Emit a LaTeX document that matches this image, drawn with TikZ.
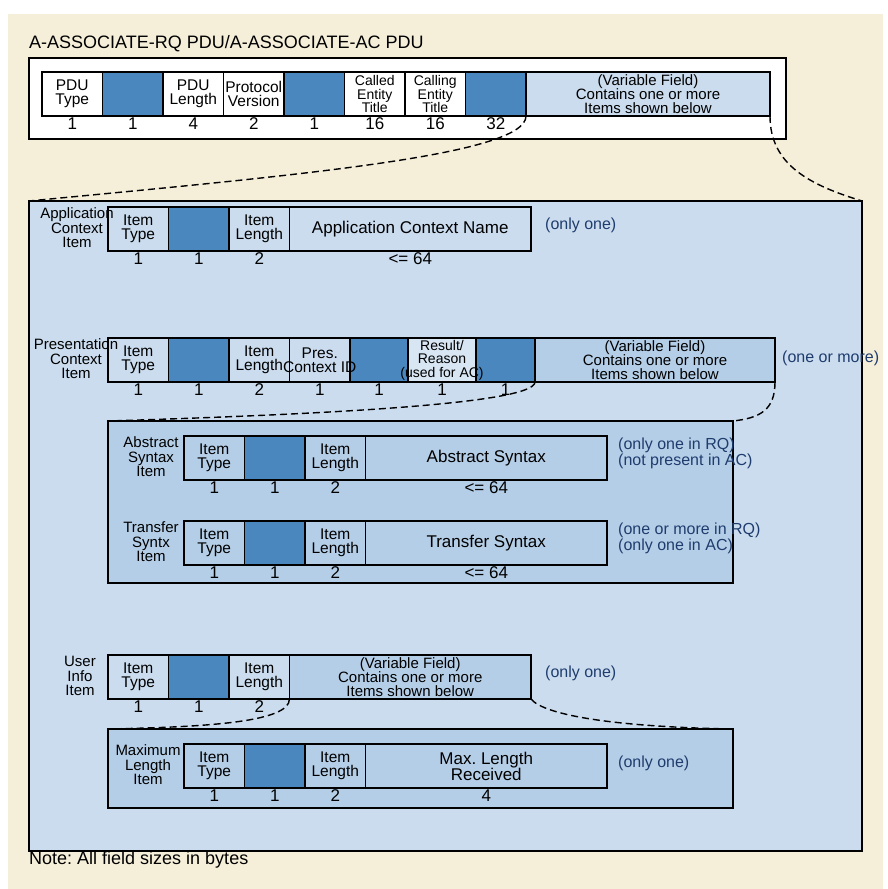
\documentclass[tikz,border=0pt]{standalone}
\usepackage{fontspec}
\setmainfont{Liberation Sans}
\usetikzlibrary{positioning}

\definecolor{pduCream}{HTML}{F5EFDA}
\definecolor{pduPale}{HTML}{CADCEE}
\definecolor{pduMid}{HTML}{B4CEE7}
\definecolor{pduBlue}{HTML}{4A87BE}
\definecolor{pduRes}{HTML}{D8E6F3}
\definecolor{pduNote}{HTML}{1F3C6E}

\tikzset{
  fld/.style={draw, line width=1.2pt, minimum width=#1, minimum height=44pt,
    inner sep=0pt, outer sep=0pt},
  fld/.default=60.5pt,
  bluefld/.style={fld=#1, fill=pduBlue},
  bluefld/.default=60.5pt,
  ftxt/.style={align=center, inner sep=0pt, font=\fontsize{15.5}{14}\selectfont},
  ftxtthree/.style={align=center, inner sep=0pt, font=\fontsize{14}{13.5}\selectfont},
  wtxt/.style={align=center, inner sep=0pt, font=\fontsize{17}{16}\selectfont},
  vartxt/.style={align=center, inner sep=0pt, font=\fontsize{15}{14.3}\selectfont},
  sz/.style={inner sep=0pt, font=\fontsize{17}{17}\selectfont},
  itemlbl/.style={align=center, inner sep=0pt, font=\fontsize{15}{14.5}\selectfont},
  remark/.style={align=left, inner sep=0pt, text=pduNote, font=\fontsize{16}{16}\selectfont},
  box/.style={draw, line width=1.6pt, inner sep=0pt, outer sep=0pt, anchor=north west},
  link/.style={line width=1.4pt, dash pattern=on 7pt off 4pt},
}

\begin{document}
\frenchspacing
\begin{tikzpicture}[x=1pt, y=-1pt]
\useasboundingbox (0,0) rectangle (888,889);
\fill[pduCream] (8,14) rectangle (883,889);

% A-ASSOCIATE PDU
\node[anchor=base west, inner sep=0pt, font=\fontsize{18}{18}\selectfont] (title) at (29,48) {A-ASSOCIATE-RQ PDU/A-ASSOCIATE-AC PDU};
\node[box, fill=white, minimum width=757pt, minimum height=81pt] (pdubox) at (29,58) {};
\node[fld, fill=white, anchor=north west] (t1) at (42,72) {};
\node[bluefld, right=0pt of t1] (t2) {};
\node[fld, fill=white, right=0pt of t2] (t3) {};
\node[fld, fill=white, right=0pt of t3] (t4) {};
\node[bluefld, right=0pt of t4] (t5) {};
\node[fld, fill=white, right=0pt of t5] (t6) {};
\node[fld, fill=white, right=0pt of t6] (t7) {};
\node[bluefld, right=0pt of t7] (t8) {};
\node[fld=244pt, fill=pduPale, right=0pt of t8] (t9) {};
\node[ftxt] (t1t) at (t1) {PDU\\Type};
\node[ftxt] (t3t) at (t3) {PDU\\Length};
\node[ftxt] (t4t) at (t4) {Protocol\\Version};
\node[ftxtthree] (t6t) at (t6) {Called\\Entity\\Title};
\node[ftxtthree] (t7t) at (t7) {Calling\\Entity\\Title};
\node[vartxt] (t9t) at (t9) {(Variable Field)\\Contains one or more\\Items shown below};
\node[sz, below=1.5pt of t1] (t1s) {1};
\node[sz, below=1.5pt of t2] (t2s) {1};
\node[sz, below=1.5pt of t3] (t3s) {4};
\node[sz, below=1.5pt of t4] (t4s) {2};
\node[sz, below=1.5pt of t5] (t5s) {1};
\node[sz, below=1.5pt of t6] (t6s) {16};
\node[sz, below=1.5pt of t7] (t7s) {16};
\node[sz, below=1.5pt of t8] (t8s) {32};

% items
\node[box, fill=pduPale, minimum width=833pt, minimum height=650pt] (bigbox) at (29,201) {};

% application context
\node[fld, fill=pduPale, anchor=north west] (a1) at (108,207) {};
\node[bluefld, right=0pt of a1] (a2) {};
\node[fld, fill=pduPale, right=0pt of a2] (a3) {};
\node[fld=241.5pt, fill=pduPale, right=0pt of a3] (a4) {};
\node[ftxt] (a1t) at (a1) {Item\\Type};
\node[ftxt] (a3t) at (a3) {Item\\Length};
\node[wtxt] (a4t) at (a4) {Application Context Name};
\node[sz, below=1.5pt of a1] (a1s) {1};
\node[sz, below=1.5pt of a2] (a2s) {1};
\node[sz, below=1.5pt of a3] (a3s) {2};
\node[sz, below=1.5pt of a4] (a4s) {<= 64};
\node[itemlbl] (alab) at (77,228) {Application\\Context\\Item};
\node[remark, anchor=west] (arem) at (545,225) {(only one)};

% presentation context
\node[fld, fill=pduPale, anchor=north west] (p1) at (108,338) {};
\node[bluefld, right=0pt of p1] (p2) {};
\node[fld, fill=pduPale, right=0pt of p2] (p3) {};
\node[fld, fill=pduPale, right=0pt of p3] (p4) {};
\node[bluefld=58pt, right=0pt of p4] (p5) {};
\node[fld=68pt, fill=pduRes, right=0pt of p5] (p6) {};
\node[bluefld=59pt, right=0pt of p6] (p7) {};
\node[fld=240pt, fill=pduMid, right=0pt of p7] (p8) {};
\node[ftxt] (p1t) at (p1) {Item\\Type};
\node[ftxt] (p3t) at (p3) {Item\\Length};
\node[ftxt] (p4t) at (p4) {Pres.\\Context ID};
\node[ftxtthree] (p6t) at (p6) {Result/\\Reason\\(used for AC)};
\node[vartxt] (p8t) at (p8) {(Variable Field)\\Contains one or more\\Items shown below};
\node[sz, below=1.5pt of p1] (p1s) {1};
\node[sz, below=1.5pt of p2] (p2s) {1};
\node[sz, below=1.5pt of p3] (p3s) {2};
\node[sz, below=1.5pt of p4] (p4s) {1};
\node[sz, below=1.5pt of p5] (p5s) {1};
\node[sz, below=1.5pt of p6] (p6s) {1};
\node[sz, below=1.5pt of p7] (p7s) {1};
\node[itemlbl] (plab) at (76,359) {Presentation\\Context\\Item};
\node[remark, anchor=west] (prem) at (782,358) {(one or more)};

% abstract / transfer syntax
\node[box, fill=pduMid, minimum width=625pt, minimum height=162pt] (synbox) at (108,421) {};
\node[fld, fill=pduMid, anchor=north west] (s1) at (184,436) {};
\node[bluefld, right=0pt of s1] (s2) {};
\node[fld, fill=pduMid, right=0pt of s2] (s3) {};
\node[fld=241.5pt, fill=pduMid, right=0pt of s3] (s4) {};
\node[ftxt] (s1t) at (s1) {Item\\Type};
\node[ftxt] (s3t) at (s3) {Item\\Length};
\node[wtxt] (s4t) at (s4) {Abstract Syntax};
\node[sz, below=1.5pt of s1] (s1s) {1};
\node[sz, below=1.5pt of s2] (s2s) {1};
\node[sz, below=1.5pt of s3] (s3s) {2};
\node[sz, below=1.5pt of s4] (s4s) {<= 64};
\node[itemlbl] (slab) at (151,457) {Abstract\\Syntax\\Item};
\node[remark, anchor=north west] (srem) at (618,438) {(only one in RQ)\\(not present in AC)};

\node[fld, fill=pduMid, anchor=north west] (x1) at (184,521) {};
\node[bluefld, right=0pt of x1] (x2) {};
\node[fld, fill=pduMid, right=0pt of x2] (x3) {};
\node[fld=241.5pt, fill=pduMid, right=0pt of x3] (x4) {};
\node[ftxt] (x1t) at (x1) {Item\\Type};
\node[ftxt] (x3t) at (x3) {Item\\Length};
\node[wtxt] (x4t) at (x4) {Transfer Syntax};
\node[sz, below=1.5pt of x1] (x1s) {1};
\node[sz, below=1.5pt of x2] (x2s) {1};
\node[sz, below=1.5pt of x3] (x3s) {2};
\node[sz, below=1.5pt of x4] (x4s) {<= 64};
\node[itemlbl] (xlab) at (151,542) {Transfer\\Syntx\\Item};
\node[remark, anchor=north west] (xrem) at (618,523) {(one or more in RQ)\\(only one in AC)};

% user info
\node[fld, fill=pduPale, anchor=north west] (u1) at (108,655) {};
\node[bluefld, right=0pt of u1] (u2) {};
\node[fld, fill=pduPale, right=0pt of u2] (u3) {};
\node[fld=241.5pt, fill=pduMid, right=0pt of u3] (u4) {};
\node[ftxt] (u1t) at (u1) {Item\\Type};
\node[ftxt] (u3t) at (u3) {Item\\Length};
\node[vartxt] (u4t) at (u4) {(Variable Field)\\Contains one or more\\Items shown below};
\node[sz, below=1.5pt of u1] (u1s) {1};
\node[sz, below=1.5pt of u2] (u2s) {1};
\node[sz, below=1.5pt of u3] (u3s) {2};
\node[itemlbl] (ulab) at (80,676) {User\\Info\\Item};
\node[remark, anchor=west] (urem) at (545,673) {(only one)};

% maximum length
\node[box, fill=pduMid, minimum width=625pt, minimum height=79pt] (maxbox) at (108,729) {};
\node[fld, fill=pduMid, anchor=north west] (m1) at (184,744) {};
\node[bluefld, right=0pt of m1] (m2) {};
\node[fld, fill=pduMid, right=0pt of m2] (m3) {};
\node[fld=241.5pt, fill=pduMid, right=0pt of m3] (m4) {};
\node[ftxt] (m1t) at (m1) {Item\\Type};
\node[ftxt] (m3t) at (m3) {Item\\Length};
\node[wtxt] (m4t) at (m4) {Max. Length\\Received};
\node[sz, below=1.5pt of m1] (m1s) {1};
\node[sz, below=1.5pt of m2] (m2s) {1};
\node[sz, below=1.5pt of m3] (m3s) {2};
\node[sz, below=1.5pt of m4] (m4s) {4};
\node[itemlbl] (mlab) at (148,765) {Maximum\\Length\\Item};
\node[remark, anchor=west] (mrem) at (618,763) {(only one)};

% dashed links
\draw[link] (t8.south east) .. controls +(0,39) and +(271,-26) .. (bigbox.north west);
\draw[link] (t9.south east) .. controls +(0,49) and +(-52,-16) .. (bigbox.north east);
\draw[link] (p7.south east) .. controls +(0,23) and +(192,-6) .. (synbox.north west);
\draw[link] (p8.south east) .. controls +(0,28) and +(27,-3) .. (synbox.north east);
\draw[link] (u3.south east) .. controls +(0,24) and +(92,-2) .. (maxbox.north west);
\draw[link] (u4.south east) .. controls +(14,17) and +(-113,-2) .. (maxbox.north east);

\node[anchor=base west, inner sep=0pt, font=\fontsize{18}{18}\selectfont] (note) at (29,864) {Note: All field sizes in bytes};
\end{tikzpicture}
\end{document}
